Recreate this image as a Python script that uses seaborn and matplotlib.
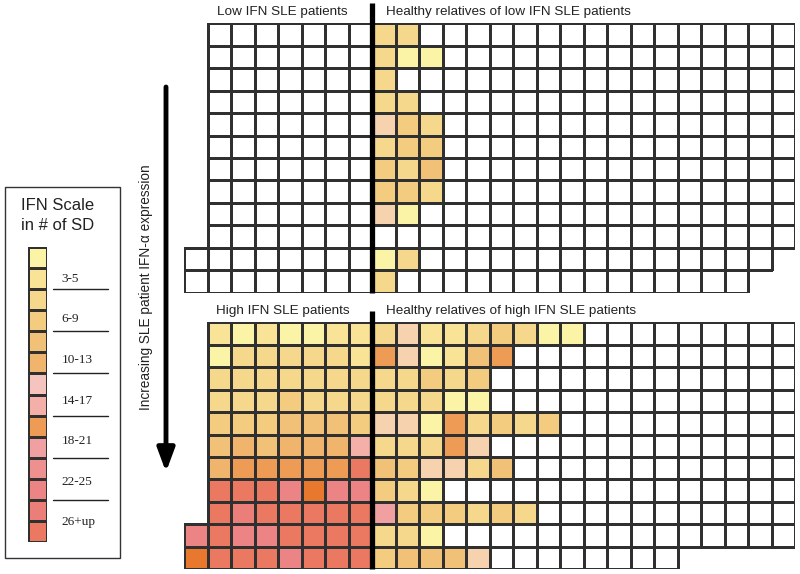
import numpy as np
import pandas as pd
import seaborn as sns
import matplotlib
matplotlib.use("Agg")
import matplotlib.pyplot as plt
from matplotlib.colors import ListedColormap, to_rgba
from matplotlib.patches import Rectangle

nan = np.nan

# colour levels: 0 = white (below 3 SD), 1-14 = legend swatches,
# 15 = deep orange, 16 = peach (shades seen in cells only)
palette = ["#FFFFFF",
           "#FBF3A6", "#F8E396", "#F6D88C", "#F4CC80", "#F2C178", "#F0B46C",
           "#F6C4BE", "#F4AFA8", "#EE9C55", "#F0A0A0", "#EE9090", "#EC8486",
           "#EC7E7A", "#EB7860",
           "#E8782E", "#F6D3AE"]

scale_labels = ["3-5", "6-9", "10-13", "14-17", "18-21", "22-25", "26+up"]

# low IFN SLE patients + their healthy relatives (12 families)
low_extra = [nan] * 10 + [0, 0]
low_patients = [[0] * 7 for _ in range(12)]
low_rel_colored = [[3, 3], [3, 1, 1], [3], [3, 3], [16, 4, 3], [3, 4, 4],
                   [4, 3, 5], [4, 4, 3], [16, 1], [], [1, 3], [3]]
low_rel_len = [18] * 10 + [17, 16]

# high IFN SLE patients + their healthy relatives (11 families)
high_extra = [nan] * 9 + [12, 15]
high_patients = [
    [2, 1, 2, 1, 1, 2, 2],
    [1, 3, 3, 3, 3, 3, 2],
    [3, 3, 3, 3, 3, 3, 3],
    [3, 3, 3, 4, 3, 3, 3],
    [4, 4, 4, 5, 5, 5, 4],
    [5, 6, 5, 6, 6, 6, 8],
    [6, 9, 9, 9, 9, 9, 14],
    [14, 14, 14, 12, 15, 12, 12],
    [14, 13, 14, 14, 14, 14, 14],
    [14, 12, 12, 14, 14, 14, 14],
    [14, 14, 14, 12, 14, 14, 14],
]
high_rel_colored = [
    [3, 16, 2, 2, 3, 4, 3, 1, 1],
    [9, 16, 1, 2, 5, 9],
    [3, 3, 4, 3, 4],
    [3, 3, 3, 1, 1],
    [16, 16, 1, 9, 3, 4, 3, 4],
    [3, 3, 3, 9, 16],
    [5, 4, 16, 16, 3, 5],
    [4, 3, 1],
    [10, 4, 4, 4, 3, 4, 3],
    [3, 3, 1],
    [4, 5, 5, 5, 16],
]
high_rel_len = [18] * 10 + [13]


def block(extra, patients, rel_colored, rel_len):
    rows = []
    for e, p, c, n in zip(extra, patients, rel_colored, rel_len):
        rel = c + [0] * (n - len(c)) + [nan] * (18 - n)
        rows.append([e] + p + rel)
    return pd.DataFrame(np.array(rows, dtype=float))


sns.set_theme(style="white")
plt.rcParams["font.family"] = ["Liberation Sans", "DejaVu Sans"]

cmap = ListedColormap(palette)
line_col = "#303030"
kw = dict(cmap=cmap, vmin=-0.5, vmax=len(palette) - 0.5, linewidths=0.75,
          linecolor=line_col, cbar=False, xticklabels=False, yticklabels=False)


def grid_heatmap(df, ax):
    mask = df.isna()
    sns.heatmap(df, mask=mask, ax=ax, **kw)
    # drop the borders of cells that do not exist
    mesh = ax.collections[0]
    ec = np.array([to_rgba(line_col)] * mask.size)
    ec[mask.values.ravel()] = (0, 0, 0, 0)
    mesh.set_edgecolor(ec)


fig = plt.figure(figsize=(8, 5.74), dpi=100)

ax_low = fig.add_axes([0.23, 0.4901, 0.76375, 0.4693])
grid_heatmap(block(low_extra, low_patients, low_rel_colored, low_rel_len), ax_low)

ax_high = fig.add_axes([0.23, 0.0082, 0.76375, 0.4303])
grid_heatmap(block(high_extra, high_patients, high_rel_colored, high_rel_len), ax_high)

# thick separator between patients and relatives
ax_low.plot([8, 8], [-0.9, 12], color="black", lw=3.8, clip_on=False,
            solid_capstyle="butt")
ax_high.plot([8, 8], [-0.5, 11], color="black", lw=3.8, clip_on=False,
             solid_capstyle="butt")

title_kw = dict(va="center", fontsize=9.7, color="#222222")
ax_low.text(4.2, -0.5, "Low IFN SLE patients", ha="center", **title_kw)
ax_low.text(8.6, -0.5, "Healthy relatives of low IFN SLE patients",
            ha="left", **title_kw)
ax_high.text(4.2, -0.52, "High IFN SLE patients", ha="center", **title_kw)
ax_high.text(8.6, -0.52, "Healthy relatives of high IFN SLE patients",
             ha="left", **title_kw)

# arrow + caption
ax_high.annotate("", xy=(166, 574 - 472), xytext=(166, 574 - 87),
                 xycoords="figure pixels", textcoords="figure pixels",
                 arrowprops=dict(arrowstyle="-|>,head_length=0.35,head_width=0.13",
                                 lw=3.5, color="black", mutation_scale=40,
                                 shrinkA=0, shrinkB=0))
fig.text(146 / 800, 1 - 287 / 574, "Increasing SLE patient IFN-\u03b1 expression",
         rotation=90, ha="center", va="center", fontsize=9.8, color="#222222")

# legend box
fig.add_artist(Rectangle((5 / 800, 1 - 558 / 574), 115 / 800, 371 / 574,
                         transform=fig.transFigure, fill=False,
                         edgecolor="#333333", lw=1))
fig.text(58 / 800, 1 - 205 / 574, "IFN Scale", ha="center", va="center",
         fontsize=12, color="#222222")
fig.text(58 / 800, 1 - 226 / 574, "in # of SD", ha="center", va="center",
         fontsize=12, color="#222222")

ax_leg = fig.add_axes([28.3 / 800, 1 - 541.7 / 574, 19 / 800, 294.4 / 574])
swatches = pd.DataFrame({"level": np.arange(1, 15)})
sns.heatmap(swatches, ax=ax_leg, **kw)
for i, lab in enumerate(scale_labels):
    ax_leg.text(1.75, 1.5 + 1.93 * i, lab, ha="left", va="center",
                fontsize=9.5, family=["Liberation Serif", "DejaVu Serif"],
                color="#222222", clip_on=False)
for i in range(6):
    ax_leg.plot([1.3, 4.2], [2 + 2 * i, 2 + 2 * i], color="#222222", lw=1,
                clip_on=False)

fig.savefig("out.png", dpi=100)
